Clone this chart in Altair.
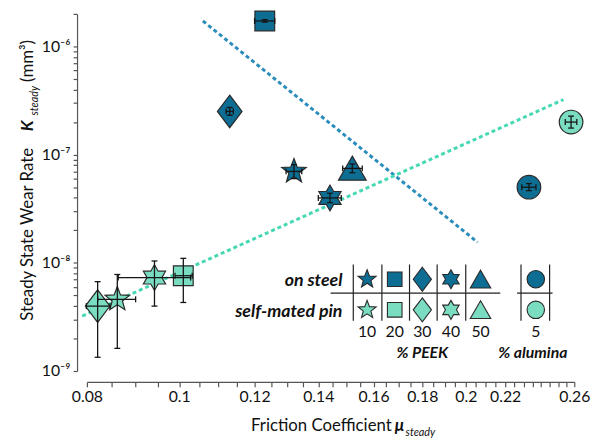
import math
import altair as alt
import pandas as pd

# ---------------- data ----------------
series = ["on steel"] * 6 + ["self-mated pin"] * 5
kind = ["PEEK 10", "PEEK 20", "PEEK 30", "PEEK 40", "PEEK 50", "alumina 5",
        "PEEK 10", "PEEK 20", "PEEK 30", "PEEK 40", "alumina 5"]
mu = [0.132, 0.123, 0.113, 0.144, 0.152, 0.233,
      0.0861, 0.101, 0.0821, 0.0942, 0.258]
mu_lo = [0.1295, 0.120, 0.112, 0.140, 0.1485, 0.229,
         0.0821, 0.0990, 0.0799, 0.0863, 0.2544]
mu_hi = [0.1345, 0.126, 0.114, 0.148, 0.1557, 0.237,
         0.0900, 0.1032, 0.0846, 0.1028, 0.2616]
K = [7.0e-8, 1.72e-6, 2.51e-7, 3.98e-8, 7.46e-8, 5.0e-8,
     4.6e-9, 7.6e-9, 3.98e-9, 7.3e-9, 2.0e-7]
K_lo = [6.0e-8, 1.68e-6, 2.31e-7, 3.6e-8, 6.8e-8, 4.65e-8,
        1.62e-9, 4.3e-9, 1.34e-9, 3.98e-9, 1.76e-7]
K_hi = [8.1e-8, 1.77e-6, 2.73e-7, 4.4e-8, 8.2e-8, 5.4e-8,
        7.8e-9, 1.1e-8, 6.7e-9, 1.04e-8, 2.27e-7]

steel_fit_mu = [0.1059, 0.2058]
steel_fit_K = [1.72e-6, 1.55e-8]
pin_fit_mu = [0.0791, 0.2533]
pin_fit_K = [3.22e-9, 3.23e-7]

kinds = ["PEEK 10", "PEEK 20", "PEEK 30", "PEEK 40", "PEEK 50", "alumina 5"]
kind_numbers = ["10", "20", "30", "40", "50", "5"]
series_names = ["on steel", "self-mated pin"]

x_ticks = [round(0.08 + 0.005 * i, 3) for i in range(37)]
x_labels = [0.08, 0.1, 0.12, 0.14, 0.16, 0.18, 0.2, 0.22, 0.26]
y_ticks = [float(f"{k}e{e}") for e in (-9, -8, -7) for k in range(1, 10)] + [1e-6, 2e-6]

# ---------------- layout helpers ----------------
W, H = 494, 362
OX, OY = 88, 11
X_DOM = [0.08, 0.26]
Y_DOM = [1e-9, 2e-6]
LX = math.log10(X_DOM[1] / X_DOM[0])
LY = math.log10(Y_DOM[1] / Y_DOM[0])


def mu_at(px):
    return X_DOM[0] * 10 ** ((px - OX) / W * LX)


def k_at(py):
    return Y_DOM[1] / 10 ** ((py - OY) / H * LY)


def poly(pts):
    return "M" + "L".join(f"{x:.3f},{y:.3f}" for x, y in pts) + "Z"


def star(n, inner):
    pts = []
    for i in range(2 * n):
        r = 1.0 if i % 2 == 0 else inner
        a = math.radians(-90 + 180.0 / n * i)
        pts.append((r * math.cos(a), r * math.sin(a)))
    return poly(pts)


paths = [
    star(5, 0.42),
    poly([(-0.77, -0.77), (0.77, -0.77), (0.77, 0.77), (-0.77, 0.77)]),
    poly([(0, -1.27), (0.96, 0), (0, 1.27), (-0.96, 0)]),
    star(6, 0.577),
    poly([(0, -0.96), (1.08, 0.92), (-1.08, 0.92)]),
    "M-0.92,0A0.92,0.92,0,1,1,0.92,0A0.92,0.92,0,1,1,-0.92,0Z",
]

FONT = "Lato"
STEEL = "#0d6d92"
TEAL = "#7adcc1"

xscale = alt.Scale(type="log", domain=X_DOM, nice=False, zero=False)
yscale = alt.Scale(type="log", domain=Y_DOM, nice=False, zero=False)

xlab_list = ",".join(str(v) for v in x_labels)
xaxis = alt.Axis(values=x_ticks, title=None, offset=11, tickSize=5, grid=False,
                 labelExpr=f"indexof([{xlab_list}], datum.value) >= 0 ? '' + datum.value : ''",
                 labelFont=FONT, labelFontSize=16, labelColor="#111", labelPadding=2,
                 labelOverlap=False, labelFlush=False, labelBound=False,
                 domainColor="#555", tickColor="#555", domainWidth=1.2, tickWidth=1.2)
sup = {-9: "⁻⁹", -8: "⁻⁸", -7: "⁻⁷", -6: "⁻⁶"}
yexpr = "".join(f"datum.value == 1e{e} ? '10{s}' : " for e, s in sup.items()) + "''"
yaxis = alt.Axis(values=y_ticks, title=None, offset=10, tickSize=4, grid=False,
                 labelExpr=yexpr, labelFont=FONT, labelFontSize=16, labelColor="#111",
                 labelPadding=3, labelOverlap=False, labelFlush=False, labelBound=False,
                 domainColor="#555", tickColor="#555", domainWidth=1.2, tickWidth=1.2)


def X(f):
    return alt.X(f, type="quantitative", scale=xscale, axis=xaxis)


def Y(f):
    return alt.Y(f, type="quantitative", scale=yscale, axis=yaxis)


shape_enc = alt.Shape("kind:N", scale=alt.Scale(domain=kinds, range=paths), legend=None)
fill_enc = alt.Fill("series:N", scale=alt.Scale(domain=series_names, range=[STEEL, TEAL]), legend=None)

pts = pd.DataFrame({"series": series, "kind": kind, "mu": mu, "K": K,
                    "mu_lo": mu_lo, "mu_hi": mu_hi, "K_lo": K_lo, "K_hi": K_hi})

# fit lines
fit_steel = alt.Chart(pd.DataFrame({"mu": steel_fit_mu, "K": steel_fit_K})).mark_line(
    color="#2a8dbb", strokeWidth=3, strokeDash=[4, 3]).encode(x=X("mu"), y=Y("K"))
fit_pin = alt.Chart(pd.DataFrame({"mu": pin_fit_mu, "K": pin_fit_K})).mark_line(
    color="#45d8b2", strokeWidth=3, strokeDash=[4, 3]).encode(x=X("mu"), y=Y("K"))

points = alt.Chart(pts).mark_point(filled=True, size=676, stroke="#2a2a2a",
                                    strokeWidth=1.2, opacity=1, fillOpacity=1).encode(
    x=X("mu"), y=Y("K"), shape=shape_enc, fill=fill_enc)

ebar_col = "#151515"
hbar = alt.Chart(pts).mark_rule(color=ebar_col, strokeWidth=1.3).encode(
    x=X("mu_lo"), x2="mu_hi", y=Y("K"))
vbar = alt.Chart(pts).mark_rule(color=ebar_col, strokeWidth=1.3).encode(
    x=X("mu"), y=Y("K_lo"), y2="K_hi")
caps_v = pd.DataFrame({"mu": mu_lo + mu_hi, "K": K + K})
caps_h = pd.DataFrame({"mu": mu + mu, "K": K_lo + K_hi})
cap_v = alt.Chart(caps_v).mark_tick(orient="vertical", size=6, thickness=1.3, color=ebar_col,
                                    opacity=1).encode(x=X("mu"), y=Y("K"))
cap_h = alt.Chart(caps_h).mark_tick(orient="horizontal", size=6, thickness=1.3, color=ebar_col,
                                    opacity=1).encode(x=X("mu"), y=Y("K"))

# ---------------- legend table ----------------
col_px = [372, 400, 428, 457, 487, 543]
row_py = [280, 311]
leg_rows = []
for s, py in zip(series_names, row_py):
    for k, px in zip(kinds, col_px):
        leg_rows.append({"series": s, "kind": k, "mu": mu_at(px), "K": k_at(py)})
leg_shapes = alt.Chart(pd.DataFrame(leg_rows)).mark_point(
    filled=True, size=370, stroke="#2a2a2a", strokeWidth=1.1, opacity=1, fillOpacity=1).encode(
    x=X("mu"), y=Y("K"), shape=shape_enc, fill=fill_enc)

vlines_px = [358, 387, 415, 443, 472, 528, 557]
vl = pd.DataFrame({"mu": [mu_at(p) for p in vlines_px],
                   "K": [k_at(265)] * len(vlines_px), "K2": [k_at(322)] * len(vlines_px)})
leg_vlines = alt.Chart(vl).mark_rule(color="#222", strokeWidth=1.2).encode(
    x=X("mu"), y=Y("K"), y2="K2")
hl = pd.DataFrame({"mu": [mu_at(335), mu_at(524)], "mu2": [mu_at(507), mu_at(560)],
                   "K": [k_at(294)] * 2})
leg_hlines = alt.Chart(hl).mark_rule(color="#222", strokeWidth=1.4).encode(
    x=X("mu"), x2="mu2", y=Y("K"))

nums = pd.DataFrame({"t": kind_numbers, "mu": [mu_at(p) for p in col_px],
                     "K": [k_at(339)] * len(col_px)})
leg_nums = alt.Chart(nums).mark_text(font=FONT, fontSize=16, color="#111", align="center",
                                     baseline="alphabetic").encode(x=X("mu"), y=Y("K"), text="t:N")
grp = pd.DataFrame({"t": ["% PEEK", "% alumina"], "mu": [mu_at(428), mu_at(540)],
                    "K": [k_at(360)] * 2})
leg_grp = alt.Chart(grp).mark_text(font=FONT, fontSize=16, fontWeight="bold", fontStyle="italic",
                                   color="#111", align="center", baseline="alphabetic").encode(
    x=X("mu"), y=Y("K"), text="t:N")
rowlab = pd.DataFrame({"t": series_names, "mu": [mu_at(347)] * 2, "K": [k_at(287), k_at(318)]})
leg_rowlab = alt.Chart(rowlab).mark_text(font=FONT, fontSize=18, fontWeight="bold",
                                         fontStyle="italic", color="#111", align="right",
                                         baseline="alphabetic").encode(
    x=X("mu"), y=Y("K"), text="t:N")

# ---------------- composite axis titles ----------------
def txt(rows, **kw):
    df = pd.DataFrame([{"t": t, "mu": mu_at(px), "K": k_at(py)} for t, px, py in rows])
    return alt.Chart(df).mark_text(font=FONT, color="#111", baseline="alphabetic", **kw).encode(
        x=X("mu"), y=Y("K"), text="t:N")


ytitle_n = txt([("Steady State Wear Rate", 33, 322), ("(mm³)", 33, 80)],
               fontSize=17, angle=270, align="left")
ytitle_k = txt([("K", 33, 130)], fontSize=17, fontWeight="bold", fontStyle="italic",
               angle=270, align="left")
ytitle_s = txt([("steady", 38, 114)], fontSize=11, fontStyle="italic", angle=270, align="left")
xtitle_n = txt([("Friction Coefficient", 397, 434)], fontSize=17, align="right")
xtitle_m = txt([("μ", 400, 434)], fontSize=17, fontWeight="bold", fontStyle="italic", align="left")
xtitle_s = txt([("steady", 411, 439)], fontSize=11, fontStyle="italic", align="left")

chart = alt.layer(
    fit_steel, fit_pin, points, hbar, vbar, cap_v, cap_h,
    leg_vlines, leg_hlines, leg_shapes, leg_nums, leg_grp, leg_rowlab,
    ytitle_n, ytitle_k, ytitle_s, xtitle_n, xtitle_m, xtitle_s,
).properties(
    width=W, height=H,
    autosize=alt.AutoSizeParams(type="none"),
    padding={"left": OX - 8, "top": OY - 8, "right": 20, "bottom": 70},
).configure_view(stroke=None)

chart.save("out.html", embed_options={"renderer": "svg", "actions": False})
